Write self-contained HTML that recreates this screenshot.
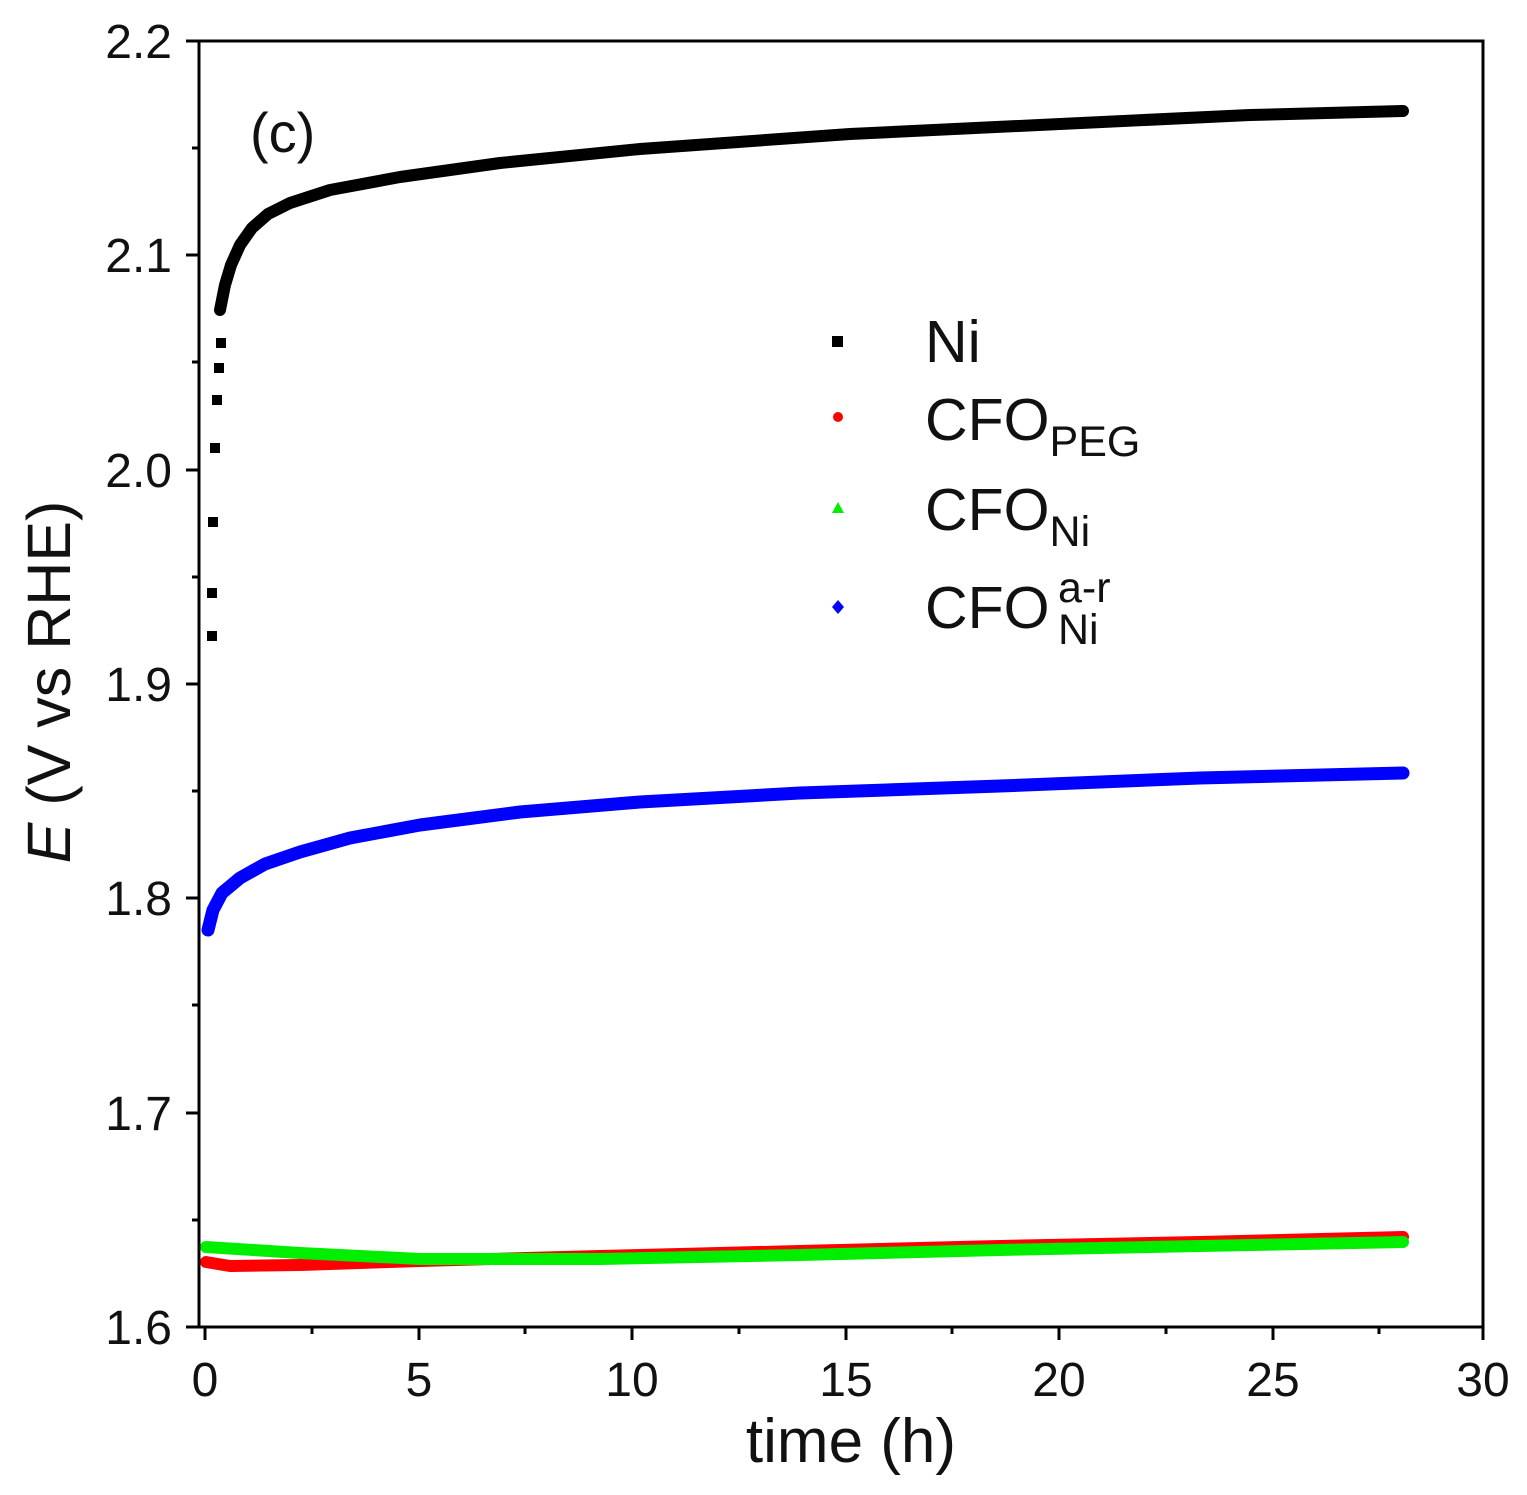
<!DOCTYPE html>
<html><head><style>body{margin:0;background:#fff}</style></head><body>
<svg width="1527" height="1490" xmlns="http://www.w3.org/2000/svg" font-family="Liberation Sans, sans-serif">
<rect width="1527" height="1490" fill="#fff"/>
<g fill="none" stroke-linecap="round" stroke-linejoin="round">
<polyline stroke="#ff0000" stroke-width="12" points="206,1262 230,1266 300,1265 420,1261 600,1256 800,1251 1000,1246 1200,1242 1403,1237"/>
<polyline stroke="#00ee00" stroke-width="12" points="206,1247 300,1253 420,1259 600,1259 800,1255 1000,1250 1200,1246 1403,1242"/>
<polyline stroke="#0000ff" stroke-width="13" points="208,930 213,910 222,893 240,878 265,864 300,852 350,838 420,825 520,812 640,802 800,793 1000,786 1200,778 1403,773"/>
<polyline stroke="#000" stroke-width="12" points="220,310 225,285 231,265 240,245 252,228 268,214 290,203 330,190 400,177 500,163 640,149 850,134 1060,124 1250,115 1403,111"/>
</g>
<g fill="#000">
<rect x="207" y="631" width="10" height="10"/><rect x="207" y="588" width="10" height="10"/>
<rect x="208" y="517" width="10" height="10"/><rect x="210" y="443" width="10" height="10"/>
<rect x="212" y="395" width="10" height="10"/><rect x="214" y="363" width="10" height="10"/>
<rect x="216" y="338" width="10" height="10"/>
</g>
<g stroke="#000" stroke-width="3" fill="none">
<rect x="199" y="41" width="1284" height="1286"/>
</g>
<g stroke="#000" stroke-width="3">
<line x1="205" y1="1327" x2="205" y2="1340"/><line x1="419" y1="1327" x2="419" y2="1340"/>
<line x1="632" y1="1327" x2="632" y2="1340"/><line x1="846" y1="1327" x2="846" y2="1340"/>
<line x1="1059" y1="1327" x2="1059" y2="1340"/><line x1="1273" y1="1327" x2="1273" y2="1340"/>
<line x1="1483" y1="1327" x2="1483" y2="1340"/>
<line x1="312" y1="1327" x2="312" y2="1334"/><line x1="525" y1="1327" x2="525" y2="1334"/>
<line x1="739" y1="1327" x2="739" y2="1334"/><line x1="952" y1="1327" x2="952" y2="1334"/>
<line x1="1166" y1="1327" x2="1166" y2="1334"/><line x1="1379" y1="1327" x2="1379" y2="1334"/>
<line x1="186" y1="41" x2="199" y2="41"/><line x1="186" y1="255" x2="199" y2="255"/>
<line x1="186" y1="470" x2="199" y2="470"/><line x1="186" y1="684" x2="199" y2="684"/>
<line x1="186" y1="898" x2="199" y2="898"/><line x1="186" y1="1113" x2="199" y2="1113"/>
<line x1="186" y1="1327" x2="199" y2="1327"/>
<line x1="192" y1="148" x2="199" y2="148"/><line x1="192" y1="362" x2="199" y2="362"/>
<line x1="192" y1="577" x2="199" y2="577"/><line x1="192" y1="791" x2="199" y2="791"/>
<line x1="192" y1="1005" x2="199" y2="1005"/><line x1="192" y1="1220" x2="199" y2="1220"/>
</g>
<g font-size="48" text-anchor="end" fill="#111">
<text x="172" y="58">2.2</text><text x="172" y="272">2.1</text><text x="172" y="487">2.0</text>
<text x="172" y="701">1.9</text><text x="172" y="915">1.8</text><text x="172" y="1130">1.7</text>
<text x="172" y="1344">1.6</text>
</g>
<g font-size="48" text-anchor="middle" fill="#111">
<text x="205" y="1396">0</text><text x="419" y="1396">5</text><text x="632" y="1396">10</text>
<text x="846" y="1396">15</text><text x="1059" y="1396">20</text><text x="1273" y="1396">25</text>
<text x="1483" y="1396">30</text>
</g>
<text x="851" y="1462" font-size="62" text-anchor="middle" fill="#111">time (h)</text>
<text transform="translate(70,682) rotate(-90)" font-size="61" text-anchor="middle" fill="#111"><tspan font-style="italic">E</tspan> (V vs RHE)</text>
<text x="250" y="152" font-size="56" fill="#111">(c)</text>
<rect x="832" y="336" width="11" height="11" fill="#000"/>
<circle cx="838" cy="417" r="5" fill="#f00"/>
<polygon points="838,502 844,513 832,513" fill="#0e0"/>
<polygon points="838,600 844,607 838,614 832,607" fill="#00f"/>
<g font-size="59" fill="#111">
<text x="925" y="362">Ni</text>
<text x="925" y="440">CFO<tspan font-size="43" dy="16">PEG</tspan></text>
<text x="925" y="530">CFO<tspan font-size="43" dy="16">Ni</tspan></text>
<text x="925" y="628">CFO<tspan font-size="43" x="1058" dy="16">Ni</tspan><tspan font-size="43" x="1058" dy="-42">a-r</tspan></text>
</g>
</svg>
</body></html>
